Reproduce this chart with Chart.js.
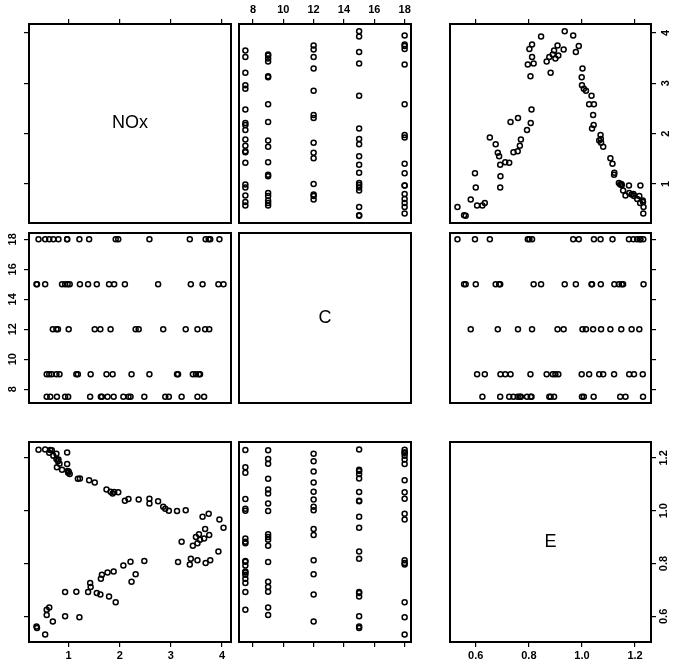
<!DOCTYPE html>
<html>
<head>
<meta charset="utf-8">
<script src="https://cdn.jsdelivr.net/npm/chart.js@4.4.0/dist/chart.umd.min.js"></script>
<style>
  body { margin: 0; background: #fff; }
  #wrap { position: relative; width: 673px; height: 670px; }
  #wrap canvas { position: absolute; }
</style>
</head>
<body>
<div id="wrap"></div>
<script>
const nox = [0.54, 0.37, 0.38, 0.69, 1.21, 0.93, 0.57, 0.57, 0.62, 1.92,
  1.79, 1.62, 1.55, 1.38, 1.15, 0.93, 1.43, 1.42, 2.23, 1.63,
  2.31, 1.65, 1.76, 1.88, 2.07, 2.21, 2.48, 3.37, 3.39, 3.14,
  3.68, 3.77, 3.52, 3.93, 3.43, 3.52, 3.21, 3.57, 3.65, 3.49,
  3.75, 3.55, 3.67, 4.03, 3.95, 3.62, 3.74, 3.29, 3.12, 2.96,
  2.89, 2.85, 2.58, 2.75, 2.58, 2.37, 2.17, 2.10, 1.97, 1.89,
  1.82, 1.74, 1.86, 1.51, 1.40, 1.22, 1.18, 1.02, 0.99, 1.00,
  0.98, 0.87, 0.97, 0.77, 0.82, 0.79, 0.76, 0.70, 0.97, 0.76,
  0.67, 0.54, 0.41, 0.62, 0.64, 0.80];
const conc = [18, 15, 15, 12, 18, 15, 9, 7.5, 9, 18,
  15, 12, 15, 15, 9, 7.5, 9, 7.5, 9, 7.5,
  12, 7.5, 7.5, 7.5, 7.5, 7.5, 7.5, 18, 15, 9,
  18, 18, 12, 15, 9, 7.5, 7.5, 9, 7.5, 9,
  12, 9, 12, 15, 18, 15, 18, 12, 9, 7.5,
  7.5, 12, 9, 15, 18, 12, 7.5, 15, 18, 15,
  12, 9, 9, 12, 18, 15, 9, 15, 7.5, 12,
  15, 15, 18, 7.5, 9, 12, 9, 18, 18, 12,
  9, 15, 18, 18, 7.5, 18];
const equiv = [0.531, 0.562, 0.556, 0.581, 0.597, 0.600, 0.605, 0.625, 0.634, 0.653,
  0.675, 0.683, 0.688, 0.692, 0.693, 0.692, 0.711, 0.726, 0.731, 0.742,
  0.759, 0.758, 0.766, 0.770, 0.793, 0.807, 0.810, 0.796, 0.818, 0.806,
  0.802, 0.812, 0.812, 0.846, 0.867, 0.877, 0.882, 0.890, 0.895, 0.900,
  0.908, 0.911, 0.931, 0.935, 0.967, 0.977, 0.988, 1.002, 0.999, 1.000,
  1.007, 1.015, 1.027, 1.036, 1.045, 1.042, 1.044, 1.038, 1.070, 1.071,
  1.072, 1.080, 1.065, 1.107, 1.115, 1.122, 1.121, 1.139, 1.144, 1.148,
  1.150, 1.155, 1.177, 1.164, 1.178, 1.187, 1.196, 1.208, 1.220, 1.216,
  1.229, 1.232, 1.231, 1.219, 1.230, 1.194];

const varNames = ['NOx', 'C', 'E'];
const noxTicks = [1, 2, 3, 4];
const concTicks = [8, 10, 12, 14, 16, 18];
const equivTicks = [0.6, 0.8, 1.0, 1.2];

// panel edges on the page
const colEdges = [[29, 231], [239, 441], [450, 651]];
const rowEdges = [[24, 223], [233, 433], [442, 642]];
const PAD = 30;
const FONT = '"Liberation Sans", Arial, Helvetica, sans-serif';

const vars = [
  { name: varNames[0], data: nox, ticks: noxTicks, digits: 0, sidePad: 7 },
  { name: varNames[1], data: conc, ticks: concTicks, digits: 0, sidePad: 5 },
  { name: varNames[2], data: equiv, ticks: equivTicks, digits: 1, sidePad: 0 }
];

function limits(arr) {
  var lo = Math.min(...arr), hi = Math.max(...arr), d = (hi - lo) * 0.04;
  return [lo - d, hi + d];
}

const frame = {
  id: 'frame',
  afterDraw(chart, args, opts) {
    var a = chart.chartArea, ctx = chart.ctx;
    ctx.save();
    ctx.strokeStyle = '#000';
    ctx.lineWidth = 2;
    ctx.strokeRect(a.left, a.top, a.right - a.left, a.bottom - a.top);
    if (opts.label) {
      ctx.fillStyle = '#000';
      ctx.font = '18px ' + FONT;
      ctx.textAlign = 'center';
      ctx.textBaseline = 'middle';
      ctx.fillText(opts.label, (a.left + a.right) / 2, (a.top + a.bottom) / 2);
    }
    ctx.restore();
  }
};

const wrap = document.getElementById('wrap');
const tickFont = { family: FONT, size: 11, weight: 'bold' };

function makePanel(r, c) {
  var x0 = colEdges[c][0], x1 = colEdges[c][1];
  var y0 = rowEdges[r][0], y1 = rowEdges[r][1];
  var cv = document.createElement('canvas');
  cv.width = x1 - x0 + 2 * PAD;
  cv.height = y1 - y0 + 2 * PAD;
  cv.style.left = (x0 - PAD) + 'px';
  cv.style.top = (y0 - PAD) + 'px';
  wrap.appendChild(cv);

  var xv = vars[c], yv = vars[r];
  var xl = limits(xv.data), yl = limits(yv.data);
  var labX = (r === 0 && c === 1) || (r === 2 && c !== 1);
  var labY = (c === 0 && r === 1) || (c === 2 && r !== 1);

  var datasets = [];
  if (r !== c) {
    datasets.push({
      data: xv.data.map((v, k) => ({ x: v, y: yv.data[k] })),
      showLine: false,
      pointRadius: 2.5,
      pointBorderWidth: 1.5,
      pointBorderColor: '#000',
      pointBackgroundColor: 'rgba(0,0,0,0)'
    });
  }

  new Chart(cv, {
    type: 'scatter',
    data: { datasets: datasets },
    options: {
      responsive: false,
      animation: false,
      events: [],
      layout: { padding: {
        left: c === 0 ? 0 : PAD, right: c === 2 ? 0 : PAD,
        top: r === 0 ? 0 : PAD, bottom: r === 2 ? 0 : PAD } },
      plugins: {
        legend: { display: false },
        tooltip: { enabled: false },
        frame: { label: r === c ? xv.name : '' }
      },
      scales: {
        x: {
          type: 'linear', position: r === 0 ? 'top' : 'bottom', display: r !== 1,
          min: xl[0], max: xl[1],
          afterBuildTicks: s => { s.ticks = xv.ticks.map(v => ({ value: v })); },
          afterFit: s => { s.height = PAD; },
          grid: { drawOnChartArea: false, tickLength: 5, color: '#000', lineWidth: 1.2 },
          border: { display: false },
          ticks: { display: labX, color: '#000', font: tickFont, padding: 2,
            minRotation: 0, maxRotation: 0, autoSkip: false,
            callback: v => v.toFixed(xv.digits) }
        },
        y: {
          type: 'linear', position: c === 0 ? 'left' : 'right', display: c !== 1,
          min: yl[0], max: yl[1],
          afterBuildTicks: s => { s.ticks = yv.ticks.map(v => ({ value: v })); },
          // labels run along the axis, reading upwards
          afterCalculateLabelRotation: s => { s.labelRotation = 90; },
          afterFit: s => { s.width = PAD; },
          grid: { drawOnChartArea: false, tickLength: 5, color: '#000', lineWidth: 1.2 },
          border: { display: false },
          ticks: { display: labY, color: '#000', font: tickFont, padding: yv.sidePad,
            minRotation: 90, maxRotation: 90, crossAlign: 'center', autoSkip: false,
            callback: v => v.toFixed(yv.digits) }
        }
      }
    },
    plugins: [frame]
  });
}

for (var r = 0; r < 3; r++) {
  for (var c = 0; c < 3; c++) makePanel(r, c);
}
</script>
</body>
</html>
